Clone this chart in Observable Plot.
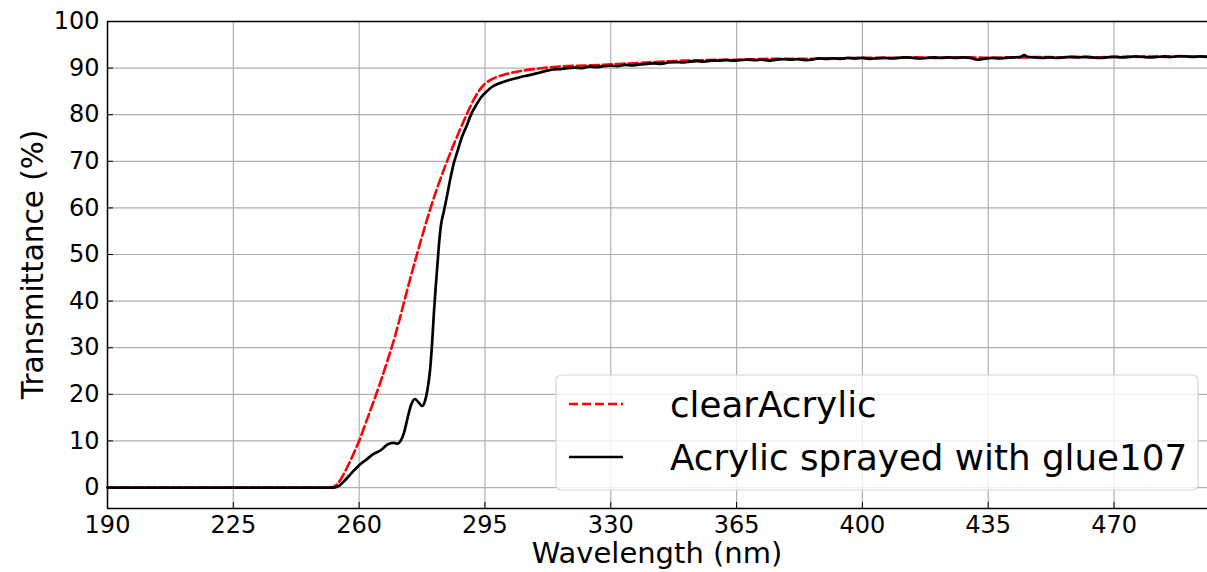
<!DOCTYPE html>
<html>
<head>
<meta charset="utf-8">
<script src="https://cdn.jsdelivr.net/npm/d3@7"></script>
<script src="https://cdn.jsdelivr.net/npm/@observablehq/plot@0.6"></script>
<style>
  html, body { margin: 0; padding: 0; background: #fff; }
  #chart svg { display: block; }
</style>
</head>
<body>
<div id="chart"></div>
<script>
// ---- data ----
const seriesNames = ["clearAcrylic", "Acrylic sprayed with glue107"];

const clearWl = [190, 200, 220, 240, 250, 252.5, 254, 256, 258, 260, 262, 264, 266, 268, 270, 272, 274, 276, 278, 280, 282, 284, 286, 288, 290, 292, 294, 296, 298, 300, 303, 306, 310, 315, 320, 325, 330, 335, 340, 345, 350, 355, 360, 365, 370, 375, 380, 385, 390, 395, 400, 405, 410, 415, 420, 425, 430, 435, 440, 445, 450, 455, 460, 465, 470, 475, 480, 485, 490, 496];
const clearT = [0, 0, 0, 0, 0, 0.05, 0.8, 3.3, 6.5, 10, 14.2, 18.4, 22.8, 27.5, 32.5, 38.3, 44.2, 49.8, 55.2, 60.3, 64.9, 69.1, 73, 76.7, 80.2, 83.4, 85.8, 87.2, 88, 88.5, 89.1, 89.5, 89.9, 90.3, 90.5, 90.6, 90.8, 91.0, 91.2, 91.4, 91.6, 91.7, 91.8, 91.8, 91.9, 92.0, 92.0, 92.0, 92.1, 92.1, 92.2, 92.2, 92.2, 92.3, 92.2, 92.3, 92.3, 92.2, 92.3, 92.3, 92.4, 92.3, 92.4, 92.3, 92.4, 92.4, 92.5, 92.4, 92.5, 92.5];

const glueWl = [190, 200, 220, 240, 250, 253, 254.5, 256, 258, 260, 262, 264, 266, 268, 269.5, 270.7, 271.5, 272.5, 273.5, 274.5, 275.5, 276.5, 277.5, 278.3, 279, 279.7, 280.3, 280.8, 281.3, 281.8, 282.3, 282.8, 283.5, 284.3, 285.3, 286.3, 287.5, 288.5, 290, 291, 292.5, 294, 295.5, 297, 298.5,
  300, 302, 304, 306, 308, 310, 312, 314, 316, 318, 320, 322, 324, 326, 328, 330, 332, 334, 336, 338, 340, 342, 344, 346, 348, 350, 352, 354, 356, 358, 360, 362, 364, 366, 368, 370, 372, 374, 376, 378, 380, 382, 384, 386, 388, 390, 392, 394, 396, 398, 400, 402, 404, 406, 408, 410, 412, 414, 416, 418, 420, 422, 424, 426, 428, 430, 432, 434, 436, 438, 440, 442, 444, 445, 446, 448, 450, 452, 454, 456, 458, 460, 462, 464, 466, 468, 470, 472, 474, 476, 478, 480, 482, 484, 486, 488, 490, 492, 494, 496];
const glueT = [0, 0, 0, 0, 0, 0, 0.4, 1.5, 3.2, 4.8, 6, 7.2, 8, 9.3, 9.6, 9.4, 10, 11.8, 15, 17.8, 19, 18.3, 17.5, 18.5, 21, 25, 31, 37.5, 43, 48, 53, 56.5, 59, 62, 66, 69.5, 72.5, 75, 77.8, 79.8, 82, 83.8, 85, 86, 86.6,
  87.0, 87.5, 87.9, 88.3, 88.6, 89.0, 89.4, 89.7, 89.8, 90.0, 90.1, 90.0, 90.3, 90.2, 90.4, 90.5, 90.4, 90.7, 90.6, 90.8, 90.9, 91.0, 90.9, 91.2, 91.3, 91.2, 91.4, 91.5, 91.4, 91.6, 91.6, 91.7, 91.6, 91.7, 91.8, 91.7, 91.8, 91.6, 91.8, 91.9, 91.8, 91.9, 91.7, 91.8, 92.1, 92.0, 92.1, 92.0, 92.2, 92.1, 92.2, 92.0, 92.1, 92.2, 92.1, 92.2, 92.3, 92.2, 92.1, 92.2, 92.3, 92.2, 92.3, 92.2, 92.3, 92.2, 91.8, 92.0, 92.2, 92.1, 92.2, 92.3, 92.4, 92.8, 92.4, 92.3, 92.2, 92.3, 92.2, 92.3, 92.4, 92.3, 92.4, 92.3, 92.2, 92.3, 92.4, 92.3, 92.4, 92.5, 92.4, 92.3, 92.4, 92.5, 92.4, 92.6, 92.5, 92.4, 92.5, 92.4];

const xTicks = [190, 225, 260, 295, 330, 365, 400, 435, 470];
const yTicks = [0, 10, 20, 30, 40, 50, 60, 70, 80, 90, 100];
const xDomain = [190, 496];
const yDomain = [-4.5, 100];

const clearData = clearWl.map((w, i) => ({wl: w, t: clearT[i]}));
const glueData = glueWl.map((w, i) => ({wl: w, t: glueT[i]}));

const W = 1207, H = 572;
const mL = 107, mR = 0, mT = 21, mB = 64;
const font = "'DejaVu Sans', sans-serif";

const chart = Plot.plot({
  width: W, height: H,
  marginLeft: mL, marginRight: mR, marginTop: mT, marginBottom: mB,
  style: {fontFamily: font, fontSize: "24px", color: "#000", background: "#fff", overflow: "visible"},
  x: {domain: xDomain, ticks: xTicks, label: null},
  y: {domain: yDomain, ticks: yTicks, label: null},
  marks: [
    Plot.gridX(xTicks, {stroke: "#b0b0b0", strokeOpacity: 1, strokeWidth: 1.2}),
    Plot.gridY(yTicks, {stroke: "#b0b0b0", strokeOpacity: 1, strokeWidth: 1.2}),
    Plot.line(clearData, {x: "wl", y: "t", stroke: "#ff0000", strokeWidth: 2.6, strokeDasharray: "9,4", curve: "monotone-x"}),
    Plot.line(glueData, {x: "wl", y: "t", stroke: "#000", strokeWidth: 2.7, curve: "monotone-x"}),
    Plot.ruleX([xDomain[0]], {stroke: "#000", strokeWidth: 1.5}),
    Plot.ruleY([yDomain[0], yDomain[1]], {stroke: "#000", strokeWidth: 1.5}),
    Plot.axisX(xTicks, {tickSize: -6, tickFormat: () => "", stroke: "#000"}),
    Plot.axisX(xTicks, {tickSize: 0, tickPadding: 7, fontSize: 24, fill: "#000", tickFormat: d => String(d)}),
    Plot.axisY(yTicks, {tickSize: -6, tickFormat: () => "", stroke: "#000"}),
    Plot.axisY(yTicks, {tickSize: 0, tickPadding: 8, fontSize: 24, fill: "#000", tickFormat: d => String(d)})
  ]
});

document.getElementById("chart").appendChild(chart);

const svg = d3.select(chart);
// axis titles
svg.append("text")
  .attr("x", mL + (W - mL - mR) / 2).attr("y", 563)
  .attr("text-anchor", "middle")
  .style("font-family", font).style("font-size", "29px").attr("fill", "#000")
  .text("Wavelength (nm)");
svg.append("text")
  .attr("transform", `translate(43, ${mT + (H - mT - mB) / 2}) rotate(-90)`)
  .attr("text-anchor", "middle")
  .style("font-family", font).style("font-size", "29.5px").attr("fill", "#000")
  .text("Transmittance (%)");

// legend
const lg = svg.append("g");
lg.append("rect")
  .attr("x", 556).attr("y", 375).attr("width", 642).attr("height", 115)
  .attr("rx", 5).attr("fill", "#fff").attr("fill-opacity", 0.8)
  .attr("stroke", "#d6d6d6").attr("stroke-width", 1.2);
const entries = [
  {name: seriesNames[0], color: "#ff0000", dash: "9,4", y: 404},
  {name: seriesNames[1], color: "#000", dash: null, y: 457}
];
entries.forEach(e => {
  lg.append("line").attr("x1", 569).attr("x2", 623).attr("y1", e.y).attr("y2", e.y)
    .attr("stroke", e.color).attr("stroke-width", 2.6).attr("stroke-dasharray", e.dash);
  lg.append("text").attr("x", 670).attr("y", e.y + 13)
    .attr("text-anchor", "start")
    .style("font-family", font).style("font-size", "35.7px").attr("fill", "#000")
    .text(e.name);
});
</script>
</body>
</html>
